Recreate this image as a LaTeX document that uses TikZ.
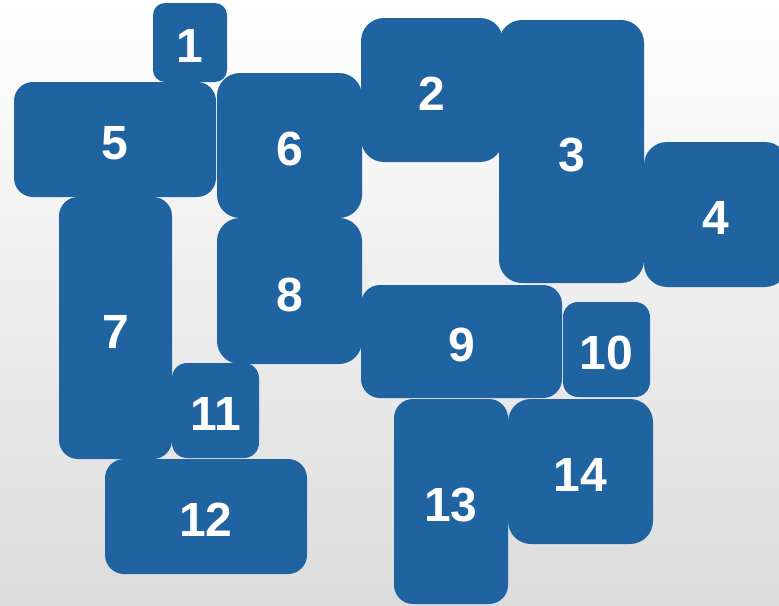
\documentclass[tikz,border=0pt]{standalone}
\usepackage{fontspec}
\setmainfont{Liberation Sans}
\usepackage{xcolor}
\definecolor{tileblue}{RGB}{31, 99, 160}
\definecolor{bgbottom}{RGB}{220, 220, 220}

\begin{document}
\begin{tikzpicture}[
  x=1pt, y=-1pt,
  tile/.style={rectangle, fill=tileblue, draw=none, inner sep=0pt,
               text=white, font=\fontsize{48}{48}\selectfont\bfseries,
               text height=40pt, text depth=0pt, align=center},
]
  % Canvas and background
  \useasboundingbox (0,0) rectangle (779,605);
  \clip (0,0) rectangle (779,605);
  \shade[top color=white, bottom color=bgbottom] (0,0) rectangle (779,605);

  % Top row
  \node[tile, minimum width=74pt, minimum height=79pt, rounded corners=12pt] (t1) at (190,42.5) {1};
  \node[tile, minimum width=142pt, minimum height=144pt, rounded corners=23pt] (t2) at (432,90) {2};
  \node[tile, minimum width=145pt, minimum height=263pt, rounded corners=23pt] (t3) at (571.5,151.5) {3};
  \node[tile, minimum width=144pt, minimum height=145pt, rounded corners=23pt] (t4) at (716,214.5) {4};

  % Left column
  \node[tile, minimum width=202pt, minimum height=115pt, rounded corners=19pt] (t5) at (115,139.5) {5};
  \node[tile, minimum width=145pt, minimum height=145pt, rounded corners=23pt] (t6) at (289.5,145.5) {6};
  \node[tile, minimum width=113pt, minimum height=262pt, rounded corners=19pt] (t7) at (115.5,328) {7};
  \node[tile, minimum width=145pt, minimum height=146pt, rounded corners=23pt] (t8) at (289.5,291) {8};

  % Middle row
  \node[tile, minimum width=201pt, minimum height=113pt, rounded corners=19pt] (t9) at (461.5,341.5) {9};
  \node[tile, minimum width=87pt, minimum height=95pt, rounded corners=15pt] (t10) at (606.5,349.5) {10};
  \node[tile, minimum width=87pt, minimum height=95pt, rounded corners=15pt] (t11) at (215.5,410.5) {11};

  % Bottom row
  \node[tile, minimum width=202pt, minimum height=115pt, rounded corners=19pt] (t12) at (206,516.5) {12};
  \node[tile, minimum width=114pt, minimum height=205pt, rounded corners=19pt] (t13) at (451,501.5) {13};
  \node[tile, minimum width=145pt, minimum height=145pt, rounded corners=23pt] (t14) at (580.5,471.5) {14};
\end{tikzpicture}
\end{document}
